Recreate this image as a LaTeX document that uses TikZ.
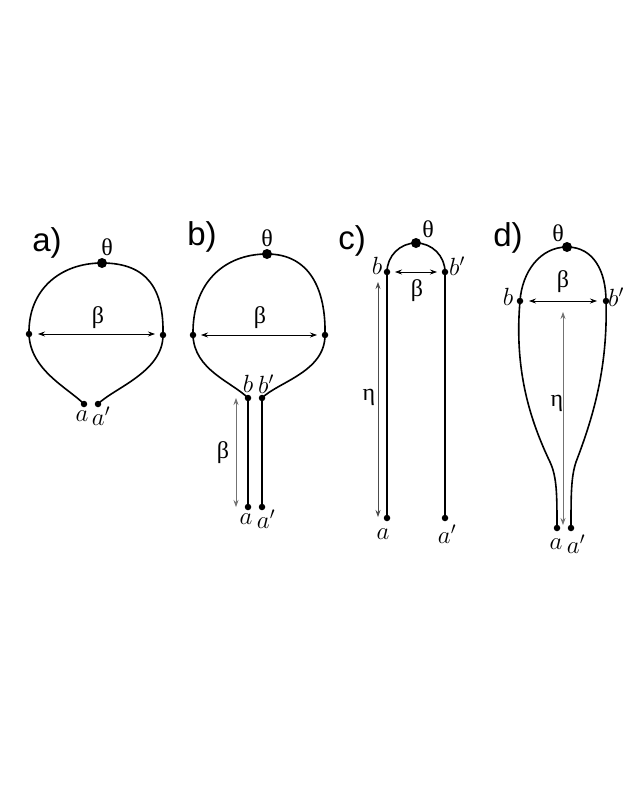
\documentclass[tikz,border=0pt]{standalone}
\usepackage{fontspec}
\setmainfont{Liberation Serif}
\newfontfamily\labfont{Liberation Sans}
\newfontfamily\grfont{Liberation Serif}
\usetikzlibrary{arrows.meta}
\tikzset{
  curve/.style={line width=1.6pt, line cap=round},
  dot/.style={circle, fill=black, inner sep=0pt, minimum size=6.5pt},
  bigdot/.style={circle, fill=black, inner sep=0pt, minimum size=10pt},
  dimarrow/.style={line width=0.7pt, {Stealth[length=7pt,width=5pt]}-{Stealth[length=7pt,width=5pt]}},
  grayarrow/.style={dimarrow, draw=black!55},
  panel/.style={font=\labfont\fontsize{33}{33}\selectfont, inner sep=0pt},
  gr/.style={font=\grfont\fontsize{24}{24}\selectfont, inner sep=0pt},
  it/.style={font=\fontsize{27}{27}\selectfont, inner sep=0pt}
}
\begin{document}
\begin{tikzpicture}[x=1pt, y=-1pt]
\useasboundingbox (0,0) rectangle (623,806);
\fill[white] (0,0) rectangle (623,806);

% ---------------- panel a
\node[panel] (la) at (47,243) {a)};
\node[bigdot] (ta) at (102,263) {};
\node[dot] (la1) at (29,334) {};
\node[dot] (ra1) at (163,335) {};
\node[dot] (aa) at (84,404) {};
\node[dot] (apa) at (98,404) {};
\draw[curve] (aa.center) .. controls (68,388) and (30,370) .. (la1.center)
  .. controls (28,290) and (60,263) .. (ta.center)
  .. controls (148,263) and (164,290) .. (ra1.center)
  .. controls (163,372) and (114,388) .. (apa.center);
\coordinate (s1) at (38,334); \coordinate (e1) at (155,334);
\draw[dimarrow] (s1) -- (e1);
\node[gr] (tha) at (107,247) {θ};
\node[gr] (bea) at (98,318) {β};
\node[it] (lab-a-a) at (82,416) {$a$};
\node[it] (lab-a-ap) at (101,416) {$a'$};

% ---------------- panel b
\node[panel] (lb) at (202,237) {b)};
\node[bigdot] (tb) at (267,254) {};
\node[dot] (lb1) at (193,335) {};
\node[dot] (rb1) at (325,335) {};
\node[dot] (bb) at (248,398) {};
\node[dot] (bpb) at (262,398) {};
\node[dot] (ab) at (248,507) {};
\node[dot] (apb) at (262,507) {};
\draw[curve] (bb.center) .. controls (232,382) and (194,370) .. (lb1.center)
  .. controls (192,282) and (225,254) .. (tb.center)
  .. controls (310,254) and (326,290) .. (rb1.center)
  .. controls (325,372) and (278,382) .. (bpb.center);
\draw[curve] (bb.center) -- (ab.center);
\draw[curve] (bpb.center) -- (apb.center);
\coordinate (s2) at (201,335); \coordinate (e2) at (317,335);
\draw[dimarrow] (s2) -- (e2);
\coordinate (s3) at (236,398); \coordinate (e3) at (236,507);
\draw[grayarrow] (s3) -- (e3);
\node[gr] (thb) at (267,238) {θ};
\node[gr] (beb) at (260,318) {β};
\node[gr] (beb2) at (223,453) {β};
\node[it] (lab-b-b) at (248,384) {$b$};
\node[it] (lab-b-bp) at (266,384) {$b'$};
\node[it] (lab-b-a) at (246,519) {$a$};
\node[it] (lab-b-ap) at (266,519) {$a'$};

% ---------------- panel c
\node[panel] (lc) at (352,241) {c)};
\node[dot] (bc) at (387,272) {};
\node[dot] (bpc) at (445,272) {};
\node[bigdot] (tc) at (416,243) {};
\node[dot] (ac) at (387,518) {};
\node[dot] (apc) at (445,518) {};
\draw[curve] (bc.center) arc[start angle=180, end angle=0, radius=29pt];
\draw[curve] (bc.center) -- (ac.center);
\draw[curve] (bpc.center) -- (apc.center);
\coordinate (s4) at (395,272); \coordinate (e4) at (437,272);
\draw[dimarrow] (s4) -- (e4);
\coordinate (s5) at (378,282); \coordinate (e5) at (378,517);
\draw[dimarrow, draw=black!70] (s5) -- (e5);
\node[gr] (thc) at (428,229) {θ};
\node[gr] (bec) at (417,291) {β};
\node[gr] (etc) at (369,397) {η};
\node[it] (lab-c-b) at (377,266) {$b$};
\node[it] (lab-c-bp) at (457,266) {$b'$};
\node[it] (lab-c-a) at (383,534) {$a$};
\node[it] (lab-c-ap) at (447,534) {$a'$};

% ---------------- panel d
\node[panel] (ld) at (508,238) {d)};
\node[bigdot] (td) at (567,247) {};
\node[dot] (bd) at (520,301) {};
\node[dot] (bpd) at (606,301) {};
\node[dot] (ad) at (557,528) {};
\node[dot] (apd) at (571,528) {};
\draw[curve] (ad.center) .. controls (557,495) and (557,477) .. (550,462)
  .. controls (530,420) and (514,370) .. (bd.center)
  .. controls (522,272) and (540,247) .. (td.center)
  .. controls (594,247) and (606,272) .. (bpd.center)
  .. controls (608,370) and (592,420) .. (576,462)
  .. controls (571,477) and (571,495) .. (apd.center);
\coordinate (s6) at (529,301); \coordinate (e6) at (597,301);
\draw[dimarrow] (s6) -- (e6);
\coordinate (s7) at (563,312); \coordinate (e7) at (563,525);
\draw[grayarrow] (s7) -- (e7);
\node[gr] (thd) at (558,233) {θ};
\node[gr] (bed) at (563,282) {β};
\node[gr] (etd) at (557,403) {η};
\node[it] (lab-d-b) at (508,297) {$b$};
\node[it] (lab-d-bp) at (616,297) {$b'$};
\node[it] (lab-d-a) at (556,544) {$a$};
\node[it] (lab-d-ap) at (576,544) {$a'$};
\end{tikzpicture}
\end{document}
